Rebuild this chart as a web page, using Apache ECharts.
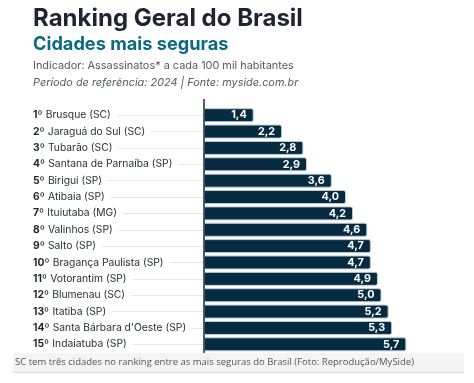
<!DOCTYPE html>
<html><head><meta charset="utf-8">
<script src="https://cdn.jsdelivr.net/npm/echarts@6/dist/echarts.min.js"></script>
<style>html,body{margin:0;padding:0;background:#fff}#c{width:474px;height:383px}</style>
</head><body><div id="c"></div>
<script>
const ranks = ['1º','2º','3º','4º','5º','6º','7º','8º','9º','10º','11º','12º','13º','14º','15º'];
const cities = ['Brusque (SC)','Jaraguá do Sul (SC)','Tubarão (SC)','Santana de Parnaíba (SP)','Birigui (SP)','Atibaia (SP)','Ituiutaba (MG)','Valinhos (SP)','Salto (SP)','Bragança Paulista (SP)','Votorantim (SP)','Blumenau (SC)','Itatiba (SP)','Santa Bárbara d\'Oeste (SP)','Indaiatuba (SP)'];
const values = [1.4, 2.2, 2.8, 2.9, 3.6, 4.0, 4.2, 4.6, 4.7, 4.7, 4.9, 5.0, 5.2, 5.3, 5.7];
const titleText = 'Ranking Geral do Brasil';
const subtitleText = 'Cidades mais seguras';
const indicatorText = 'Indicador: Assassinatos* a cada 100 mil habitantes';
const periodText = 'Período de referência: 2024 | Fonte: myside.com.br';
const captionText = 'SC tem três cidades no ranking entre as mais seguras do Brasil (Foto: Reprodução/MySide)';

const categories = ranks.map((r, i) => r + '|' + cities[i]);
const chart = echarts.init(document.getElementById('c'));
const F = 'Inter, "Noto Sans", sans-serif';
chart.setOption({
  animation: false,
  grid: { left: 204, top: 107, height: 245.5, width: 248.5, containLabel: false },
  xAxis: { type: 'value', min: 0, max: 7, show: false },
  yAxis: {
    type: 'category', inverse: true, data: categories,
    axisLine: { show: false },
    axisTick: { show: true, alignWithLabel: true, length: 171, lineStyle: { color: '#e6e6e6', width: 1 } },
    axisLabel: {
      align: 'left', margin: 171, backgroundColor: '#fff', padding: [1, 6, 1, 0],
      formatter: v => { const p = v.split('|'); return '{r|' + p[0] + '} {n|' + p[1] + '}'; },
      rich: {
        r: { fontFamily: F, fontSize: 10.3, fontWeight: 'bold', color: '#1e2430' },
        n: { fontFamily: F, fontSize: 10.3, color: '#2a2f38' }
      }
    }
  },
  series: [{
    type: 'bar', data: values, barWidth: 14,
    itemStyle: { color: '#062a40', borderColor: '#bfcdd6', borderWidth: 1, borderRadius: [0, 2, 2, 0] },
    label: {
      show: true, position: 'insideRight', distance: 7, color: '#fff',
      fontFamily: F, fontSize: 10.8, fontWeight: 'bold',
      formatter: p => p.value.toFixed(1).replace('.', ',')
    }
  }],
  graphic: [
    { type: 'line', shape: { x1: 204, y1: 99, x2: 204, y2: 353 }, style: { stroke: '#1e2430', lineWidth: 1.5 }, z: 10 },
    { type: 'text', x: 33, y: 19, style: { text: titleText, font: 'bold 24px ' + F, fill: '#1e2430', textVerticalAlign: 'middle' } },
    { type: 'text', x: 33, y: 45, style: { text: subtitleText, font: 'bold 18.2px ' + F, fill: '#0b6a80', textVerticalAlign: 'middle' } },
    { type: 'text', x: 33, y: 66, style: { text: indicatorText, font: '10.9px ' + F, fill: '#555a60', textVerticalAlign: 'middle' } },
    { type: 'text', x: 33, y: 82.5, style: { text: periodText, font: 'italic 10.9px ' + F, fill: '#555a60', textVerticalAlign: 'middle' } },
    { type: 'rect', shape: { x: 13, y: 353, width: 451, height: 19 }, style: { fill: '#f4f4f4' } },
    { type: 'line', shape: { x1: 13, y1: 372.5, x2: 464, y2: 372.5 }, style: { stroke: '#dcdcdc', lineWidth: 1 } },
    { type: 'text', x: 15, y: 362, style: { text: captionText, font: '9.5px "Open Sans", sans-serif', fill: '#555', textVerticalAlign: 'middle' } }
  ]
});
</script></body></html>
